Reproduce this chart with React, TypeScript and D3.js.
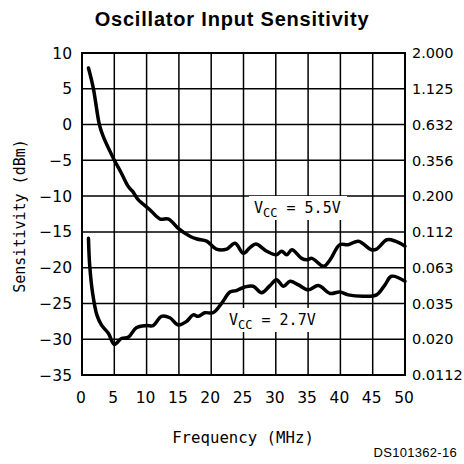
import React from "react";
import * as d3 from "d3";

const xTicks = [0, 5, 10, 15, 20, 25, 30, 35, 40, 45, 50];
const yTicks = [10, 5, 0, -5, -10, -15, -20, -25, -30, -35];
const rightLabels = ["2.000", "1.125", "0.632", "0.356", "0.200", "0.112", "0.063", "0.035", "0.020", "0.0112"];

const freq55 = [1.0, 1.75, 2.7, 3.3, 4.85, 6.1, 7.2, 7.9, 8.7, 10.5, 12.1, 13.4, 14.9, 16.7, 17.8, 19.3, 20.8, 22.4, 23.7, 25.0, 26.0, 26.9, 28.6, 30.1, 30.9, 31.7, 32.5, 34.0, 34.8, 35.6, 37.4, 38.4, 39.9, 41.2, 42.8, 44.8, 45.6, 47.2, 48.5, 50.0];
const sens55 = [7.9, 5.1, -0.05, -1.7, -4.7, -6.8, -8.7, -9.4, -10.5, -11.9, -13.2, -13.2, -14.5, -15.6, -16.0, -16.3, -17.4, -17.4, -16.6, -18.0, -17.2, -16.7, -17.7, -18.2, -17.7, -18.2, -17.5, -18.7, -18.9, -18.7, -19.8, -18.9, -16.8, -16.8, -16.3, -17.5, -17.4, -16.1, -16.3, -17.0];

const freq27 = [1.0, 1.2, 1.65, 2.3, 3.0, 4.1, 5.0, 6.1, 7.2, 8.4, 10.0, 11.0, 12.3, 13.6, 14.9, 16.2, 17.2, 18.0, 19.0, 20.3, 21.6, 22.9, 23.9, 25.2, 26.5, 27.8, 29.1, 30.1, 31.2, 32.2, 33.5, 35.0, 36.6, 38.4, 39.9, 41.2, 43.6, 45.6, 46.9, 47.9, 50.0];
const sens27 = [-15.9, -19.8, -23.6, -26.6, -28.0, -29.2, -30.7, -29.9, -29.7, -28.4, -28.1, -28.1, -26.8, -27.0, -28.0, -27.5, -26.6, -26.8, -26.3, -26.3, -25.0, -23.4, -23.2, -22.7, -22.6, -23.5, -22.5, -21.7, -22.6, -21.9, -22.4, -23.1, -22.5, -23.6, -23.4, -23.8, -24.0, -23.8, -22.4, -21.2, -21.9];

const W = 464, H = 464;
const L = 82, R = 405, T = 53, B = 375;

export default function App() {
  const x = d3.scaleLinear().domain([0, 50]).range([L, R]);
  const y = d3.scaleLinear().domain([-35, 10]).range([B, T]);
  const line = d3.line<[number, number]>().x(d => x(d[0])).y(d => y(d[1])).curve(d3.curveCatmullRom.alpha(0.5));
  const d55 = line(freq55.map((f, i) => [f, sens55[i]]) as [number, number][]) || "";
  const d27 = line(freq27.map((f, i) => [f, sens27[i]]) as [number, number][]) || "";
  const tickFont = "'DejaVu Sans', sans-serif";
  const monoFont = "'DejaVu Sans Mono', monospace";
  return (
    <svg width={W} height={H} style={{ position: "absolute", left: 0, top: 0, background: "#fff" }}>
      <text x={232} y={26} textAnchor="middle" fontFamily="'Liberation Sans', Arial, sans-serif" fontWeight="bold" fontSize={20} letterSpacing={0.8}>Oscillator Input Sensitivity</text>
      {xTicks.map(t => (
        <line key={"vx" + t} x1={x(t)} x2={x(t)} y1={T} y2={B} stroke="#000" strokeWidth={1.5} />
      ))}
      {yTicks.map(t => (
        <line key={"hy" + t} x1={L} x2={R} y1={y(t)} y2={y(t)} stroke="#000" strokeWidth={1.5} />
      ))}
      <rect x={L} y={T} width={R - L} height={B - T} fill="none" stroke="#000" strokeWidth={2} />
      {yTicks.map(t => (
        <text key={"ly" + t} x={72} y={y(t)} dy="0.36em" textAnchor="end" fontFamily={tickFont} fontSize={15.5}>{t < 0 ? "\u2212" + Math.abs(t) : String(t)}</text>
      ))}
      {yTicks.map((t, i) => (
        <text key={"ry" + t} x={412} y={y(t)} dy="0.36em" textAnchor="start" fontFamily={tickFont} fontSize={14.5}>{rightLabels[i]}</text>
      ))}
      {xTicks.map(t => (
        <text key={"lx" + t} x={x(t) - 1} y={403} textAnchor="middle" fontFamily={tickFont} fontSize={15.5}>{t}</text>
      ))}
      <text x={243} y={443} textAnchor="middle" fontFamily={monoFont} fontSize={15.7}>Frequency (MHz)</text>
      <text transform={`translate(25,${216}) rotate(-90)`} textAnchor="middle" fontFamily={monoFont} fontSize={15}>Sensitivity (dBm)</text>
      <text x={457} y={457} textAnchor="end" fontFamily="'Liberation Sans', Arial, sans-serif" fontSize={13} letterSpacing={0.3}>DS101362-16</text>
      <path d={d55} fill="none" stroke="#000" strokeWidth={3.5} strokeLinejoin="round" strokeLinecap="round" />
      <path d={d27} fill="none" stroke="#000" strokeWidth={3.5} strokeLinejoin="round" strokeLinecap="round" />
      <g fontFamily={monoFont} fontSize={15}>
        <rect x={249} y={196} width={98} height={24} fill="#fff" />
        <text x={254} y={213}>V<tspan fontSize={12} dy={4}>CC</tspan><tspan dy={-4}> = 5.5V</tspan></text>
        <rect x={224} y={308} width={98} height={24} fill="#fff" />
        <text x={229} y={325}>V<tspan fontSize={12} dy={4}>CC</tspan><tspan dy={-4}> = 2.7V</tspan></text>
      </g>
    </svg>
  );
}
